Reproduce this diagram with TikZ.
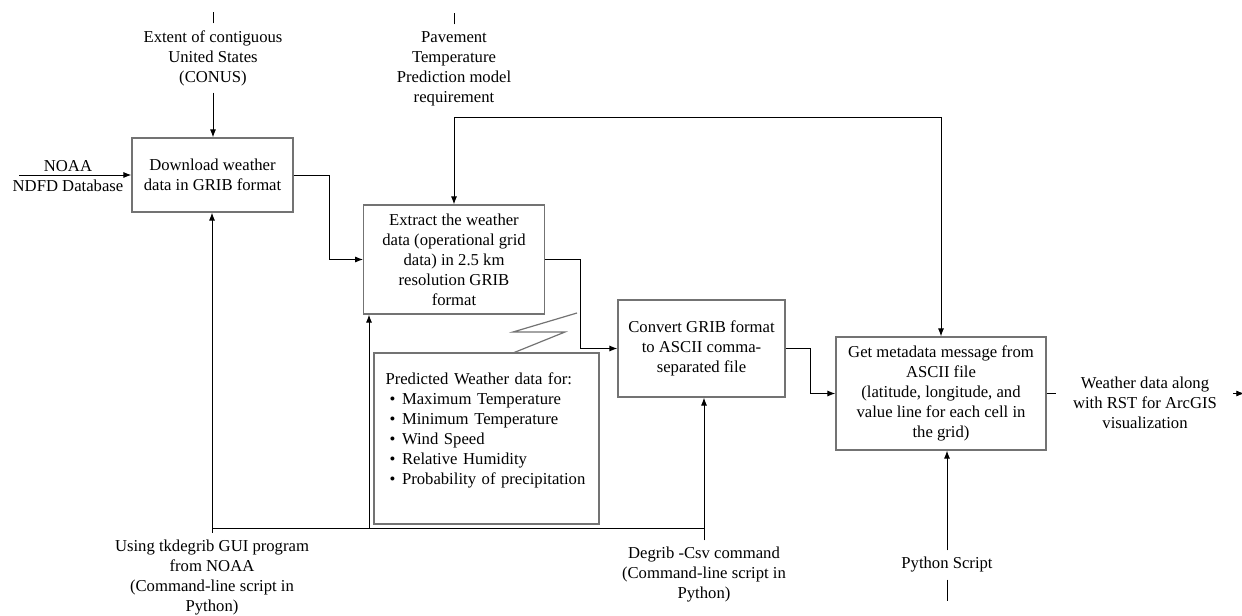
\documentclass[tikz,border=0pt]{standalone}
\usepackage{fontspec}
\setmainfont{Liberation Serif}
\usetikzlibrary{arrows.meta}

\newcommand{\itm}{\hspace*{3pt}\makebox[9.4pt][l]{\textbullet}}

\begin{document}
\begin{tikzpicture}[x=0.75pt,y=-0.75pt,>={Latex[length=6pt,width=4.5pt]},
  font=\fontsize{12.5}{15}\selectfont,
  box/.style={draw=black!55,line width=0.9pt,inner sep=0pt,align=center},
  lbl/.style={inner sep=5pt,align=center},
  conn/.style={line width=0.7pt}]
\useasboundingbox (0,0) rectangle (1242,616);

% define the process boxes
\node[box,minimum width=120.75pt,minimum height=55.5pt] (dl) at (212.5,175)
  {Download weather\\data in GRIB format};
\node[box,minimum width=135.4pt,minimum height=81.75pt] (ext) at (454,259.5)
  {Extract the weather\\data (operational grid\\data) in 2.5 km\\resolution GRIB\\format};
\node[box,minimum width=125.25pt,minimum height=72.75pt] (conv) at (701.5,348.5)
  {Convert GRIB format\\to ASCII comma-\\separated file};
\node[box,minimum width=157.5pt,minimum height=84.75pt] (meta) at (941,393.5)
  {Get metadata message from\\ASCII file\\ (latitude, longitude, and\\value line for each cell in\\the grid)};
\node[box,align=left,text width=151.5pt,inner xsep=8.6pt,minimum height=128.25pt] (pred) at (486.5,438.5)
  {Predicted Weather data for:\\
   \itm Maximum Temperature\\
   \itm Minimum Temperature\\
   \itm Wind Speed\\
   \itm Relative Humidity\\
   \itm Probability of precipitation\\
   \mbox{}};

% define the labels
\node[lbl] (conus) at (213,58) {Extent of contiguous\\United States\\(CONUS)};
\node[lbl] (pav) at (454,68.5) {Pavement\\Temperature\\Prediction model\\requirement};
\node[lbl] (noaa) at (68,176.5) {NOAA\\NDFD Database};
\node[lbl] (tkd) at (212,577.5) {Using tkdegrib GUI program\\from NOAA\\(Command-line script in\\Python)};
\node[lbl] (deg) at (704,575) {Degrib -Csv command\\(Command-line script in\\Python)};
\node[lbl] (py) at (947,565) {Python Script};
\node[lbl,inner xsep=12pt] (out) at (1145,403) {Weather data along\\with RST for ArcGIS\\visualization};

\coordinate (src) at (19,175);
\coordinate (fb) at (454,117);
\coordinate (bus) at (0,528);
\coordinate (tap) at (369,528);

% define the links
\draw[conn,->] (src) -- (dl.west);
\draw[conn] (conus.north) -- ++(0,-11);
\draw[conn,->] (conus.south) -- (conus.south |- dl.north);
\draw[conn] (pav.north) -- ++(0,-11);
\draw[conn,<->] (ext.north) -- (fb) -| (meta.north);
\draw[conn,->] (dl.east) -- ++(36,0) |- (ext.west);
\draw[conn,->] (ext.east) -- ++(36,0) |- (conv.west);
\draw[conn,->] (conv.east) -- ++(25,0) |- (meta.west);
\draw[conn] (meta.east) -- ++(9,0);
\draw[conn,->] (out.east |- meta.east) -- ++(11,0);
\draw[conn] (tkd.north |- bus) -- (deg.north |- bus);
\draw[conn,->] (tkd.north) -- (tkd.north |- dl.south);
\draw[conn,->] (tap) -- (tap |- ext.south);
\draw[conn,->] (deg.north) -- (deg.north |- conv.south);
\draw[conn,->] (py.north) -- (py.north |- meta.south);
\draw[conn] (py.south) -- ++(0,21);

% lightning note marker
\draw[black!55,line width=0.9pt] (513,353) -- (565,332) -- (513,332) -- (577,313);

\end{tikzpicture}
\end{document}
